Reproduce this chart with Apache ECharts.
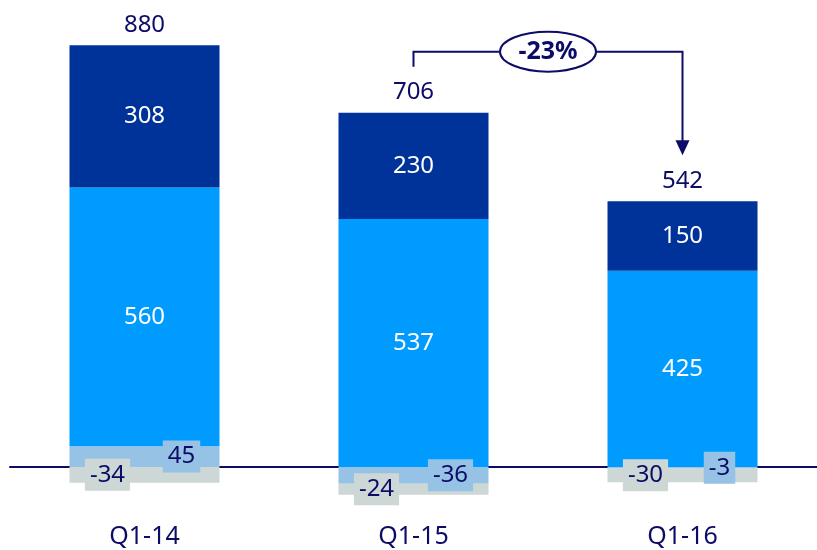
<!DOCTYPE html>
<html>
<head>
<meta charset="utf-8">
<script src="https://cdn.jsdelivr.net/npm/echarts@6/dist/echarts.min.js"></script>
<style>html,body{margin:0;padding:0;background:#fff}#c{width:817px;height:550px}</style>
</head>
<body>
<div id="c"></div>
<script>
const categories = ['Q1-14', 'Q1-15', 'Q1-16'];
const lightSeg = [45, -36, -3];
const greySeg = [-34, -24, -30];
const mainSeg = [560, 537, 425];
const topSeg = [308, 230, 150];
const totals = [880, 706, 542];
const changeText = '-23%';

const NAVY = '#0c0c66';
const FONT = '"Noto Sans", sans-serif';
const posSum = categories.map((c, i) =>
  [lightSeg[i], greySeg[i], mainSeg[i], topSeg[i]].filter(v => v > 0).reduce((a, b) => a + b, 0));

const chart = echarts.init(document.getElementById('c'));
const boxLabel = (bg, dx) => ({
  show: true, position: 'inside', offset: [dx, 0],
  color: NAVY, fontSize: 24, fontFamily: FONT, lineHeight: 26,
  backgroundColor: bg, padding: [3, 5]
});
chart.setOption({
  animation: false,
  grid: { left: 10, right: 0, top: 5, bottom: 36.8, containLabel: false, outerBoundsMode: 'none' },
  xAxis: {
    type: 'category', data: categories,
    axisLine: { onZero: true, lineStyle: { color: NAVY, width: 2 } },
    axisTick: { show: false },
    axisLabel: { margin: 11, fontSize: 25, color: NAVY, fontFamily: FONT }
  },
  yAxis: { type: 'value', min: -100, max: 1000, show: false, splitLine: { show: false } },
  series: [
    { name: 'light', type: 'bar', stack: 's', barWidth: 150, data: lightSeg,
      itemStyle: { color: '#96c2e6' }, label: boxLabel('#96c2e6', 37), z: 2 },
    { name: 'grey', type: 'bar', stack: 's', barWidth: 150, data: greySeg,
      itemStyle: { color: '#cdd7d5' }, label: boxLabel('#cdd7d5', -37), z: 2 },
    { name: 'main', type: 'bar', stack: 's', barWidth: 150, data: mainSeg,
      itemStyle: { color: '#009bff' },
      label: { show: true, position: 'inside', color: '#fff', fontSize: 24, fontFamily: FONT } },
    { name: 'top', type: 'bar', stack: 's', barWidth: 150, data: topSeg,
      itemStyle: { color: '#003399' },
      label: { show: true, position: 'inside', color: '#fff', fontSize: 24, fontFamily: FONT } },
    { name: 'total', type: 'scatter', data: posSum, symbol: 'circle', symbolSize: 1,
      itemStyle: { color: 'rgba(0,0,0,0)', opacity: 1 }, silent: true,
      label: { show: true, position: 'top', distance: 8, color: NAVY, opacity: 1, fontSize: 24, fontFamily: FONT,
        formatter: p => String(totals[p.dataIndex]) } }
  ]
});

const x2 = chart.convertToPixel({ xAxisIndex: 0 }, categories[1]);
const x3 = chart.convertToPixel({ xAxisIndex: 0 }, categories[2]);
const y2 = chart.convertToPixel({ yAxisIndex: 0 }, posSum[1]);
const y3 = chart.convertToPixel({ yAxisIndex: 0 }, posSum[2]);
const hy = y2 - 61;
const tipY = y3 - 46;
const mx = (x2 + x3) / 2;
chart.setOption({
  graphic: [
    { type: 'polyline', z: 10, shape: { points: [[x2, y2 - 46], [x2, hy], [x3, hy], [x3, tipY - 14]] },
      style: { stroke: NAVY, lineWidth: 2, fill: null } },
    { type: 'polygon', z: 10, shape: { points: [[x3 - 7, tipY - 15], [x3 + 7, tipY - 15], [x3, tipY]] },
      style: { fill: NAVY } },
    { type: 'ellipse', z: 11, shape: { cx: mx, cy: hy, rx: 48, ry: 20 },
      style: { fill: '#fff', stroke: NAVY, lineWidth: 2 } },
    { type: 'text', z: 12, x: mx, y: hy,
      style: { text: changeText, fill: NAVY, font: 'bold 25px "Noto Sans", sans-serif', align: 'center', verticalAlign: 'middle' } }
  ]
});
</script>
</body>
</html>
